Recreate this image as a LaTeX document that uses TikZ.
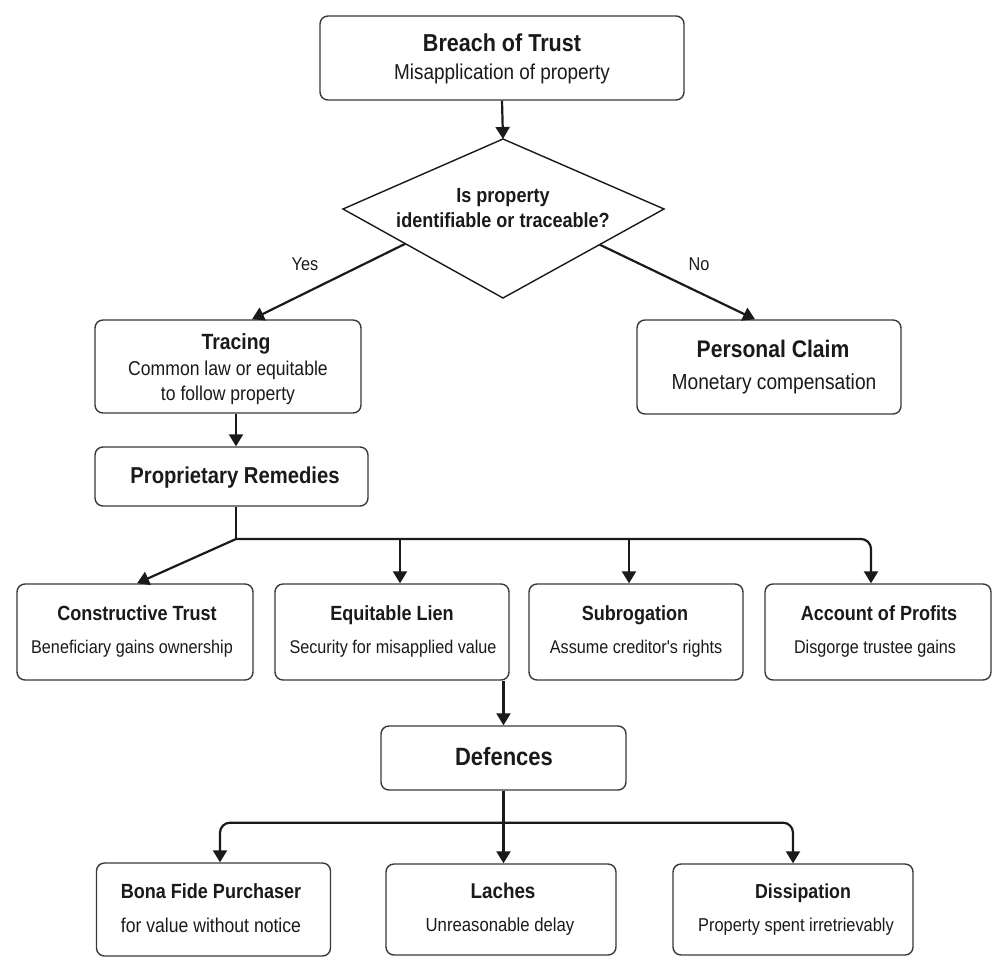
\documentclass[tikz,border=0pt]{standalone}
\usepackage{fontspec}
\setmainfont{Liberation Sans}[FakeStretch=0.88, Ligatures=TeXOff]
\usetikzlibrary{arrows.meta,calc}
\definecolor{ink}{HTML}{1A1A1A}
\definecolor{edge}{HTML}{3A3A3A}
\begin{document}
\begin{tikzpicture}[
 x=1pt, y=-1pt,
 box/.style={draw=edge, line width=1.4pt, rounded corners=8pt, fill=white, inner sep=0pt},
 tl/.style={font=\fontsize{#1}{#1}\selectfont\bfseries, text=ink, inner sep=0pt, text height=0.72\dimexpr#1pt\relax, text depth=0pt, yshift=3pt},
 sl/.style={font=\fontsize{#1}{#1}\selectfont, text=ink, inner sep=0pt, text height=0.72\dimexpr#1pt\relax, text depth=0pt, yshift=3pt},
 arr/.style={draw=ink, line width=2.2pt, -{Triangle[length=12pt,width=14pt]}},
 ln/.style={draw=ink, line width=2.2pt},
]
\useasboundingbox (0,0) rectangle (1008,974);
\fill[white] (0,0) rectangle (1008,974);

% boxes
\node[box, minimum width=364pt, minimum height=84pt] (breach) at (502,58) {};
\node[box, minimum width=266pt, minimum height=93pt] (tracing) at (228,366.5) {};
\node[box, minimum width=264pt, minimum height=94pt] (personal) at (769,367) {};
\node[box, minimum width=273pt, minimum height=59pt] (prop) at (231.5,476.5) {};
\node[box, minimum width=236pt, minimum height=96pt] (constr) at (135,632) {};
\node[box, minimum width=234pt, minimum height=96pt] (eqlien) at (392,632) {};
\node[box, minimum width=214pt, minimum height=96pt] (subrog) at (636,632) {};
\node[box, minimum width=226pt, minimum height=96pt] (account) at (878,632) {};
\node[box, minimum width=245pt, minimum height=64pt] (defences) at (503.5,758) {};
\node[box, minimum width=234pt, minimum height=93pt] (bona) at (213.5,909.5) {};
\node[box, minimum width=230pt, minimum height=91pt] (laches) at (501,909.5) {};
\node[box, minimum width=240pt, minimum height=91pt] (dissip) at (793,909.5) {};

% diamond
\coordinate (dN) at (503,139);
\coordinate (dE) at (664,209);
\coordinate (dS) at (503,298);
\coordinate (dW) at (343,209);
\draw[draw=ink, line width=1.4pt, fill=white, line join=miter] (dN) -- (dE) -- (dS) -- (dW) -- cycle;

% texts
\node[tl=24.5] (breachT) at (502,42) {Breach of Trust};
\node[sl=21.5] (breachS) at (502,72) {Misapplication of property};
\node[tl=20.5] (q1) at (503,195) {Is property};
\node[tl=20.5] (q2) at (503,220) {identifiable or traceable?};
\node[sl=18.5] (yes) at (305,264) {Yes};
\node[sl=18.5] (no) at (699,264) {No};
\node[tl=22] (tracingT) at (236,341) {Tracing};
\node[sl=20] (tracingS1) at (228,368) {Common law or equitable};
\node[sl=20] (tracingS2) at (228,393) {to follow property};
\node[tl=24] (personalT) at (773,348) {Personal Claim};
\node[sl=21.8] (personalS) at (774,382) {Monetary compensation};
\node[tl=23] (propT) at (235,475) {Proprietary Remedies};
\node[tl=20.5] (constrT) at (137,613) {Constructive Trust};
\node[sl=18.4] (constrS) at (132,647) {Beneficiary gains ownership};
\node[tl=20.5] (eqlienT) at (392,613) {Equitable Lien};
\node[sl=18.4] (eqlienS) at (393,647) {Security for misapplied value};
\node[tl=20.5] (subrogT) at (635,613) {Subrogation};
\node[sl=18.4] (subrogS) at (636,647) {Assume creditor's rights};
\node[tl=20.5] (accountT) at (879,613) {Account of Profits};
\node[sl=18.4] (accountS) at (875,647) {Disgorge trustee gains};
\node[tl=25] (defT) at (504,756) {Defences};
\node[tl=20.5] (bonaT) at (211,891) {Bona Fide Purchaser};
\node[sl=20] (bonaS) at (211,925) {for value without notice};
\node[tl=21.4] (lachesT) at (503,891) {Laches};
\node[sl=19] (lachesS) at (500,925) {Unreasonable delay};
\node[tl=20.2] (dissipT) at (803,891) {Dissipation};
\node[sl=18.6] (dissipS) at (796,925) {Property spent irretrievably};

% connectors
\draw[arr] (breach.south) -- (dN);
\draw[arr] ($(dW)!0.39!(dS)$) -- ([xshift=24pt]tracing.north);
\draw[arr] ($(dE)!0.40!(dS)$) -- ([xshift=-14pt]personal.north);
\draw[arr] ([xshift=8pt]tracing.south) -- ([xshift=8pt]tracing.south |- prop.north);

\coordinate (hub) at (236,539);
\coordinate (eqtip) at ([xshift=8pt]eqlien.north);
\coordinate (sbtip) at ([xshift=-7pt]subrog.north);
\draw[ln] ([xshift=4.5pt]prop.south) -- (hub);
\draw[arr] (hub) -- ([xshift=2pt]constr.north);
\draw[arr, rounded corners=10pt] (hub) -| ([xshift=-7pt]account.north);
\draw[arr] (hub -| eqtip) -- (eqtip);
\draw[arr] (hub -| sbtip) -- (sbtip);

\draw[arr] (defences.north |- eqlien.south) -- (defences.north);

\coordinate (hub2) at ($(defences.south)+(0,32)$);
\draw[arr] (defences.south) -- (defences.south |- laches.north);
\draw[arr, rounded corners=10pt] (hub2) -| ([xshift=6.5pt]bona.north);
\draw[arr, rounded corners=10pt] (hub2) -| (dissip.north);
\end{tikzpicture}
\end{document}
